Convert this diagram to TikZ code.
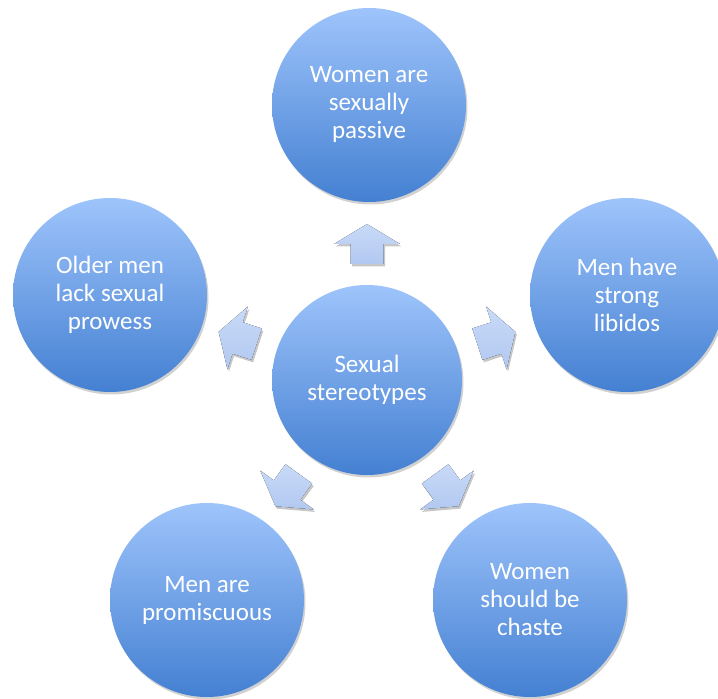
\documentclass[tikz,border=0pt]{standalone}
\usepackage{fontspec}
\setmainfont{Carlito}
\usetikzlibrary{shadows,calc}
\definecolor{circtop}{RGB}{158,196,251}
\definecolor{circbot}{RGB}{68,128,210}
\definecolor{arrtop}{RGB}{200,218,248}
\definecolor{arrbot}{RGB}{178,200,240}
\tikzset{
  bubble/.style={circle, minimum size=194pt, inner sep=0pt, top color=circtop, bottom color=circbot, draw=none,
    text=white, align=center, font=\fontsize{25}{28}\selectfont,
    drop shadow={shadow xshift=1.5pt, shadow yshift=-2.5pt, opacity=0.18, fill=black}},
  blockarrow/.style={top color=arrtop, bottom color=arrbot, draw=none,
    drop shadow={shadow xshift=1.5pt, shadow yshift=-2.5pt, opacity=0.22, fill=black}},
}
\begin{document}
\begin{tikzpicture}[x=1pt,y=1pt]
\useasboundingbox (0,0) rectangle (718,699);
\node[bubble, minimum size=190pt] (c) at (367,319) {Sexual\\stereotypes};
\node[bubble] (t) at (369,594) {Women are\\sexually\\passive};
\node[bubble] (r) at (627,404) {Men have\\strong\\libidos};
\node[bubble] (l) at (110,404) {Older men\\lack sexual\\prowess};
\node[bubble] (bl) at (207,99) {Men are\\promiscuous};
\node[bubble] (br) at (530,99) {Women\\should be\\chaste};
\foreach \ang/\nm in {90/at, 18/ar, -54/abr, -126/abl, 162/al}{
  \coordinate (\nm) at ($(c)+(\ang:136)$);
  \fill[blockarrow, shift={(\nm)}, rotate=\ang-90]
    (0,20) -- (33,0) -- (16.5,0) -- (16.5,-20) -- (-16.5,-20) -- (-16.5,0) -- (-33,0) -- cycle;
}
\end{tikzpicture}
\end{document}
